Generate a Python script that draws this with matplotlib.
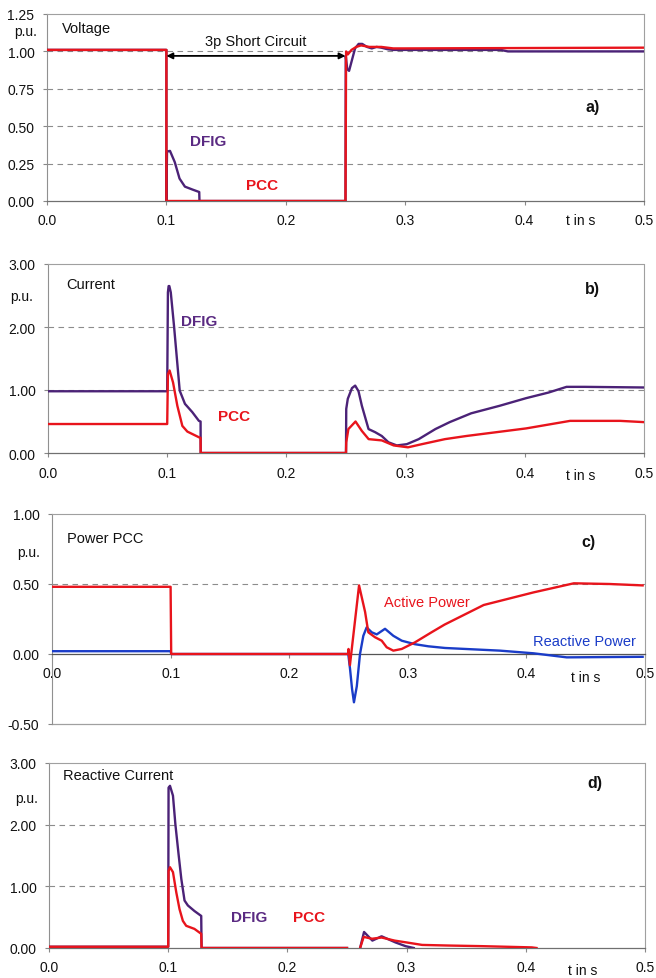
import matplotlib
matplotlib.use('Agg')
import matplotlib.pyplot as plt

plt.rcParams['font.family'] = ['Liberation Sans', 'DejaVu Sans']

# ---------------- data ----------------
x_ticks = [0.0, 0.1, 0.2, 0.3, 0.4, 0.5]
x_tick_labels = ['0.0', '0.1', '0.2', '0.3', '0.4', '0.5']

# a) Voltage
t_va_pcc = [0, 0.1, 0.1, 0.2500, 0.2505, 0.252, 0.255, 0.259, 0.263, 0.270, 0.280, 0.290, 0.300, 0.500]
va_pcc = [1.01, 1.01, 0.0, 0.0, 1.00, 0.98, 1.01, 1.03, 1.04, 1.03, 1.03, 1.02, 1.02, 1.025]

t_va_dfig = [0, 0.1, 0.1, 0.1005, 0.103, 0.107, 0.111, 0.1155, 0.122, 0.1275, 0.1277, 0.250,
             0.2502, 0.2515, 0.253, 0.255, 0.258, 0.261, 0.264, 0.268, 0.272, 0.276, 0.280,
             0.285, 0.290, 0.300, 0.380, 0.386, 0.500]
va_dfig = [1.01, 1.01, 0.0, 0.33, 0.335, 0.26, 0.15, 0.096, 0.076, 0.06, 0.0, 0.0,
           0.97, 0.88, 0.87, 0.93, 1.02, 1.05, 1.05, 1.03, 1.02, 1.03, 1.025,
           1.015, 1.01, 1.01, 1.01, 1.0, 1.0]

# b) Current
t_ib_dfig = [0, 0.1, 0.1006, 0.1012, 0.1018, 0.103, 0.1057, 0.1105, 0.1149, 0.121, 0.1266, 0.128, 0.1281,
             0.250, 0.2502, 0.2515, 0.255, 0.2577, 0.2605, 0.2633, 0.2689, 0.2745, 0.280, 0.2856,
             0.2926, 0.301, 0.311, 0.325, 0.337, 0.355, 0.379, 0.401, 0.420, 0.435, 0.450, 0.500]
ib_dfig = [0.98, 0.98, 2.55, 2.65, 2.65, 2.55, 2.02, 0.99, 0.78, 0.65, 0.51, 0.50, 0.0,
           0.0, 0.70, 0.86, 1.03, 1.07, 0.98, 0.75, 0.38, 0.33, 0.27, 0.17,
           0.12, 0.14, 0.22, 0.38, 0.49, 0.63, 0.75, 0.87, 0.96, 1.05, 1.05, 1.04]

t_ib_pcc = [0, 0.1, 0.1006, 0.102, 0.1049, 0.1085, 0.1127, 0.1169, 0.1266, 0.128, 0.1281,
            0.250, 0.2502, 0.252, 0.258, 0.2633, 0.269, 0.280, 0.290, 0.302, 0.3136,
            0.333, 0.351, 0.401, 0.438, 0.480, 0.500]
ib_pcc = [0.46, 0.46, 1.25, 1.31, 1.12, 0.75, 0.43, 0.34, 0.25, 0.24, 0.0,
          0.0, 0.17, 0.38, 0.50, 0.35, 0.22, 0.20, 0.12, 0.09, 0.14,
          0.22, 0.27, 0.39, 0.51, 0.51, 0.49]

# c) Power PCC
t_pc_act = [0, 0.1, 0.1005, 0.2498, 0.2500, 0.2512, 0.2589, 0.264, 0.2667, 0.2723, 0.278,
            0.2822, 0.2878, 0.2949, 0.306, 0.320, 0.331, 0.364, 0.406, 0.440, 0.470, 0.498]
pc_act = [0.48, 0.48, 0.0, 0.0, 0.036, -0.08, 0.49, 0.30, 0.155, 0.12, 0.095,
          0.048, 0.024, 0.036, 0.083, 0.155, 0.21, 0.35, 0.44, 0.505, 0.50, 0.49]

t_pc_react = [0, 0.1, 0.1005, 0.2498, 0.2513, 0.2530, 0.2546, 0.257, 0.2597, 0.2625, 0.2653,
              0.2696, 0.2738, 0.2808, 0.2878, 0.2949, 0.306, 0.3173, 0.3314, 0.3777,
              0.406, 0.434, 0.498]
pc_react = [0.02, 0.02, 0.0, 0.0, -0.107, -0.25, -0.345, -0.23, 0.0, 0.13, 0.19,
            0.155, 0.14, 0.18, 0.13, 0.095, 0.07, 0.055, 0.043, 0.024,
            0.005, -0.024, -0.02]

# d) Reactive Current
t_id_dfig = [0, 0.1, 0.1003, 0.1015, 0.104, 0.106, 0.1087, 0.111, 0.1137, 0.1165, 0.122,
             0.1277, 0.128, 0.250, None, 0.261, 0.2643, 0.2713, 0.279, 0.2907, 0.2991, 0.306]
id_dfig = [0.02, 0.02, 2.60, 2.63, 2.47, 2.01, 1.52, 1.12, 0.77, 0.69, 0.60,
           0.52, 0.0, 0.0, None, 0.0, 0.26, 0.12, 0.19, 0.09, 0.03, 0.0]

t_id_pcc = [0, 0.1, 0.1003, 0.1015, 0.104, 0.1068, 0.1095, 0.1123, 0.1151, 0.122, 0.1277,
            0.128, 0.250, None, 0.261, 0.264, 0.271, 0.279, 0.290, 0.300, 0.313, 0.335,
            0.363, 0.405, 0.409]
id_pcc = [0.02, 0.02, 1.25, 1.31, 1.23, 0.90, 0.63, 0.44, 0.36, 0.31, 0.23,
          0.0, 0.0, None, 0.0, 0.18, 0.15, 0.17, 0.12, 0.09, 0.05, 0.04,
          0.03, 0.01, 0.0]

# ---------------- styling ----------------
RED = '#e8141c'
PURPLE = '#4b2277'
PURPLE_TXT = '#5a2a82'
BLUE = '#1a3cc8'
GRID = '#8c8c8c'
FS = 10
FS_LBL = 10.5
FS_BOLD = 11

W, H = 656, 979
fig = plt.figure(figsize=(W / 100, H / 100), dpi=100)
fig.patch.set_facecolor('white')


def rect(l, r, top, bot):
    return [l / W, 1 - bot / H, (r - l) / W, (bot - top) / H]


def clean(ts, vs):
    xs = [float('nan') if t is None else t for t in ts]
    ys = [float('nan') if v is None else v for v in vs]
    return xs, ys


def style(ax, ylim, yticks, grid_vals):
    ax.set_xlim(0, 0.5)
    ax.set_ylim(*ylim)
    ax.set_xticks(x_ticks)
    ax.set_xticklabels(x_tick_labels)
    ax.set_yticks(yticks)
    ax.set_yticklabels(['%.2f' % v for v in yticks])
    for s in ['top', 'right']:
        ax.spines[s].set_color('#a0a0a0')
        ax.spines[s].set_linewidth(0.8)
        ax.spines[s].set_linestyle((0, (2, 1)))
    ax.spines['left'].set_color('#909090')
    ax.spines['left'].set_linewidth(0.8)
    ax.spines['bottom'].set_color('#707070')
    ax.spines['bottom'].set_linewidth(0.9)
    ax.tick_params(axis='both', direction='out', length=3, color='#888888',
                   labelsize=FS, labelcolor='#111111')
    ax.tick_params(axis='x', pad=6)
    ax.tick_params(axis='y', pad=6)
    for g in grid_vals:
        ax.axhline(g, color=GRID, lw=0.8, ls=(0, (5, 4)), zorder=1)


def pu(ax, xf, yf):
    ax.text(xf, yf, 'p.u.', transform=ax.transAxes, ha='center', va='center',
            fontsize=FS, color='#111111', clip_on=False)


def tins(ax, xd, yf):
    ax.text(xd, yf, 't in s', transform=ax.get_xaxis_transform(), ha='center',
            va='center', fontsize=FS, color='#111111', clip_on=False)


LW = 1.7

# ---------- a) Voltage ----------
axa = fig.add_axes(rect(47, 644, 15, 202))
style(axa, (0, 1.25), [0.0, 0.25, 0.5, 0.75, 1.0, 1.25], [0.25, 0.5, 0.75, 1.0])
axa.plot(t_va_dfig, va_dfig, color=PURPLE, lw=LW, zorder=3)
axa.plot(t_va_pcc, va_pcc, color=RED, lw=LW, zorder=4)
axa.text(0.025, 0.925, 'Voltage', transform=axa.transAxes, ha='left', va='center',
         fontsize=FS_LBL, color='#111111')
pu(axa, -0.035, 0.911)
axa.annotate('', xy=(0.1, 0.97), xytext=(0.25, 0.97),
             arrowprops=dict(arrowstyle='<|-|>', color='black', lw=1.3,
                             mutation_scale=9, shrinkA=0, shrinkB=0), zorder=5)
axa.text(0.175, 1.07, '3p Short Circuit', ha='center', va='center', fontsize=FS_LBL,
         color='#111111')
axa.text(0.135, 0.40, 'DFIG', ha='center', va='center', fontsize=FS_BOLD,
         fontweight='bold', color=PURPLE_TXT)
axa.text(0.18, 0.11, 'PCC', ha='center', va='center', fontsize=FS_BOLD,
         fontweight='bold', color=RED)
axa.text(0.457, 0.635, 'a)', ha='center', va='center', fontsize=FS_BOLD + 0.5,
         fontweight='bold', color='#111111')
tins(axa, 0.447, -0.10)

# ---------- b) Current ----------
axb = fig.add_axes(rect(48, 644, 265, 454))
style(axb, (0, 3.0), [0.0, 1.0, 2.0, 3.0], [1.0, 2.0])
axb.plot(t_ib_dfig, ib_dfig, color=PURPLE, lw=LW, zorder=3)
axb.plot(t_ib_pcc, ib_pcc, color=RED, lw=LW, zorder=4)
axb.text(0.03, 0.894, 'Current', transform=axb.transAxes, ha='left', va='center',
         fontsize=FS_LBL, color='#111111')
pu(axb, -0.045, 0.832)
axb.text(0.127, 2.10, 'DFIG', ha='center', va='center', fontsize=FS_BOLD,
         fontweight='bold', color=PURPLE_TXT)
axb.text(0.156, 0.59, 'PCC', ha='center', va='center', fontsize=FS_BOLD,
         fontweight='bold', color=RED)
axb.text(0.457, 2.61, 'b)', ha='center', va='center', fontsize=FS_BOLD + 0.5,
         fontweight='bold', color='#111111')
tins(axb, 0.447, -0.117)

# ---------- c) Power PCC ----------
axc = fig.add_axes(rect(52, 645, 515, 725))
style(axc, (-0.5, 1.0), [-0.5, 0.0, 0.5, 1.0], [0.5])
axc.spines['bottom'].set_position(('data', 0.0))
axc.spines['bottom'].set_color('#555555')
axc.axhline(-0.5, color='#a0a0a0', lw=0.9, zorder=2, clip_on=False)
axc.plot(t_pc_act, pc_act, color=RED, lw=LW, zorder=4)
axc.plot(t_pc_react, pc_react, color=BLUE, lw=LW, zorder=3)
axc.text(0.025, 0.886, 'Power PCC', transform=axc.transAxes, ha='left', va='center',
         fontsize=FS_LBL, color='#111111')
pu(axc, -0.04, 0.82)
axc.text(0.316, 0.37, 'Active Power', ha='center', va='center', fontsize=FS_LBL,
         color=RED)
axc.text(0.449, 0.09, 'Reactive Power', ha='center', va='center', fontsize=FS_LBL,
         color=BLUE)
axc.text(0.452, 0.80, 'c)', ha='center', va='center', fontsize=FS_BOLD + 0.5,
         fontweight='bold', color='#111111')
tins(axc, 0.450, 0.224)

# ---------- d) Reactive Current ----------
axd = fig.add_axes(rect(49, 645, 764, 949))
style(axd, (0, 3.0), [0.0, 1.0, 2.0, 3.0], [1.0, 2.0])
xs, ys = clean(t_id_dfig, id_dfig)
axd.plot(xs, ys, color=PURPLE, lw=LW, zorder=3)
xs, ys = clean(t_id_pcc, id_pcc)
axd.plot(xs, ys, color=RED, lw=LW, zorder=4)
axd.text(0.0235, 0.935, 'Reactive Current', transform=axd.transAxes, ha='left',
         va='center', fontsize=FS_LBL, color='#111111')
pu(axd, -0.037, 0.81)
axd.text(0.168, 0.50, 'DFIG', ha='center', va='center', fontsize=FS_BOLD,
         fontweight='bold', color=PURPLE_TXT)
axd.text(0.218, 0.50, 'PCC', ha='center', va='center', fontsize=FS_BOLD,
         fontweight='bold', color=RED)
axd.text(0.458, 2.69, 'd)', ha='center', va='center', fontsize=FS_BOLD + 0.5,
         fontweight='bold', color='#111111')
tins(axd, 0.448, -0.119)

fig.savefig('out.png', dpi=100, facecolor='white')
